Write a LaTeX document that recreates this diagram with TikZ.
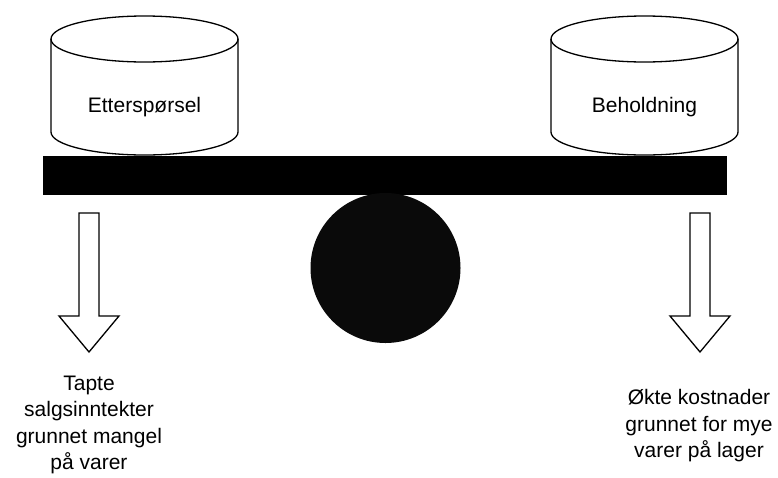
\documentclass[tikz,border=0pt]{standalone}
\usepackage{fontspec}
\setmainfont{Liberation Sans}
\begin{document}
\begin{tikzpicture}[x=1pt,y=-1pt,
  outline/.style={draw=black,line width=1.3pt,fill=white,line join=round},
  label/.style={align=center,font=\fontsize{21}{26.5}\selectfont,inner sep=0pt},
  blockarrow/.style={draw=black,line width=1.3pt,fill=white,line join=miter}]
\useasboundingbox (0,0) rectangle (778,477);

% storage cylinders (y axis points down, so a negative y radius bulges upward)
\foreach \cx in {144.5,644.5}{
  \draw[outline] (\cx-93.5,39) -- (\cx-93.5,132)
    arc[start angle=180,end angle=360,x radius=93.5,y radius=-23]
    -- (\cx+93.5,39) arc[start angle=0,end angle=180,x radius=93.5,y radius=-23] -- cycle;
  \draw[outline,fill=none] (\cx-93.5,39) arc[start angle=180,end angle=360,x radius=93.5,y radius=-23];
}
\node[label] (demand) at (144.5,107) {Etterspørsel};
\node[label] (stock) at (644.5,107) {Beholdning};

% beam and pivot
\fill[black] (43,156) rectangle (727,195);
\fill[black!96] (385.5,268) circle[radius=75];

% down arrows
\foreach \ax in {89,700}{
  \draw[blockarrow] (\ax-10,213) -- (\ax+10,213) -- (\ax+10,316) -- (\ax+30,316)
    -- (\ax,352) -- (\ax-30,316) -- (\ax-10,316) -- cycle;
}

\node[label] (lost) at (89,425) {Tapte\\salgsinntekter\\grunnet mangel\\på varer};
\node[label] (cost) at (699,426) {Økte kostnader\\grunnet for mye\\varer på lager};
\end{tikzpicture}
\end{document}
